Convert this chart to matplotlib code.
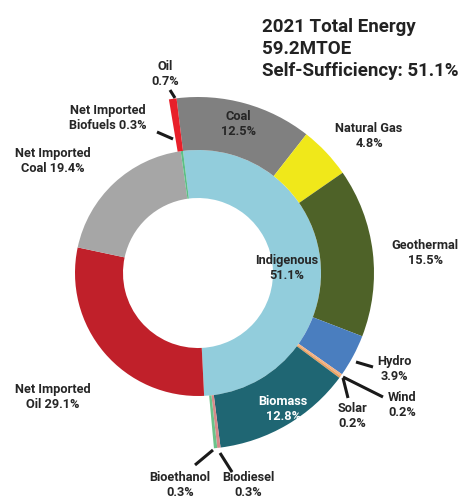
import matplotlib.pyplot as plt

plt.rcParams['font.family'] = ['Roboto', 'DejaVu Sans']

# inner ring: indigenous vs imports
inner_labels = ['Indigenous', 'Net Imported Oil', 'Net Imported Coal', 'Net Imported Biofuels']
inner_values = [51.1, 29.1, 19.4, 0.3]
inner_colors = ['#92CDDC', '#C0202A', '#A6A6A6', '#5CBF85']

# outer ring: indigenous breakdown (imports left blank)
outer_labels = ['Coal', 'Natural Gas', 'Geothermal', 'Hydro', 'Wind', 'Solar',
                'Biomass', 'Biodiesel', 'Bioethanol', 'Oil']
outer_values = [12.5, 4.8, 15.5, 3.9, 0.2, 0.2, 12.8, 0.3, 0.3, 0.7]
outer_colors = ['#808080', '#F0E81A', '#4E6228', '#4A7EBF', '#F4B183', '#E8A060',
                '#1F6673', '#D88A8A', '#6CC38A', '#E8202A']

W, H = 473, 500
fig = plt.figure(figsize=(W / 100, H / 100), dpi=100)
ax = fig.add_axes([0, 0, 1, 1])

cx, cy = 198, H - 273
r_out, r_mid, r_hole = 176, 123, 75
start = 97

ax.pie(inner_values, colors=inner_colors, radius=r_mid, center=(cx, cy),
       startangle=start, counterclock=False, frame=True,
       wedgeprops=dict(width=r_mid - r_hole, linewidth=0))

# outer ring: blank gap where imports sit, oil placed just before the start
imports = sum(inner_values[1:])
vals = outer_values[:-1] + [imports, outer_values[-1]]
cols = outer_colors[:-1] + ['none', outer_colors[-1]]
ax.pie(vals, colors=cols, radius=r_out, center=(cx, cy),
       startangle=start, counterclock=False, frame=True,
       wedgeprops=dict(width=r_out - r_mid, linewidth=0))
ax.set_xlim(0, W)
ax.set_ylim(0, H)
ax.set_aspect('equal')
ax.axis('off')


def px(x, y):
    return x, H - y


tc = '#262626'
labels = [
    ('Oil\n0.7%', 165, 74, tc),
    ('Net Imported\nBiofuels 0.3%', 108, 118, tc),
    ('Net Imported\nCoal 19.4%', 53, 161, tc),
    ('Coal\n12.5%', 238, 124, tc),
    ('Natural Gas\n4.8%', 369, 136, tc),
    ('Geothermal\n15.5%', 425, 253, tc),
    ('Indigenous\n51.1%', 287, 268, tc),
    ('Hydro\n3.9%', 394, 369, tc),
    ('Wind\n0.2%', 402, 405, tc),
    ('Solar\n0.2%', 352, 416, tc),
    ('Biomass\n12.8%', 283, 409, 'white'),
    ('Net Imported\nOil 29.1%', 53, 397, tc),
    ('Bioethanol\n0.3%', 180, 485, tc),
    ('Biodiesel\n0.3%', 248, 485, tc),
]
for txt, x, y, c in labels:
    ax.text(*px(x, y), txt, ha='center', va='center', fontsize=9.2,
            fontweight='bold', color=c, linespacing=1.15)

leaders = [
    ((170, 90), (175, 98)),
    ((157, 132), (173, 139)),
    ((356, 362), (373, 367)),
    ((343, 377), (383, 397)),
    ((343, 378), (348, 398)),
    ((213, 450), (195, 465)),
    ((220, 453), (232, 472)),
]
for (x0, y0), (x1, y1) in leaders:
    ax.plot([x0, x1], [H - y0, H - y1], color='#1a1a1a', lw=2.2,
            solid_capstyle='butt')

ax.text(*px(262, 18), '2021 Total Energy\n59.2MTOE\nSelf-Sufficiency: 51.1%',
        ha='left', va='top', fontsize=13.5, fontweight='bold', color='#222222',
        linespacing=1.3)

fig.savefig('out.png', dpi=100)
